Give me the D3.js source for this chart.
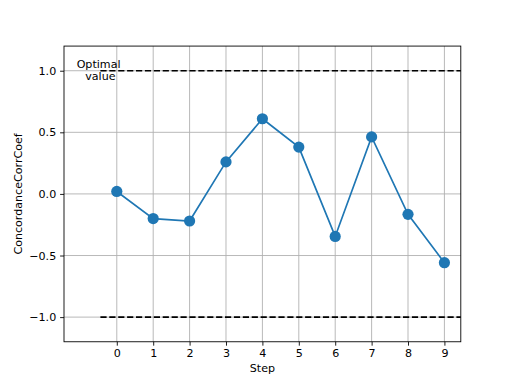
<!DOCTYPE html>
<html><head><meta charset="utf-8">
<script src="https://cdn.jsdelivr.net/npm/d3@7"></script>
<style>body{margin:0;background:#fff}svg{display:block}text{font-family:"DejaVu Sans",sans-serif}</style>
</head><body><svg id="c" width="512" height="384"></svg>
<script>
const steps = [0,1,2,3,4,5,6,7,8,9];
const values = [0.02,-0.20,-0.22,0.26,0.61,0.38,-0.345,0.463,-0.166,-0.558];
const xTicks = [0,1,2,3,4,5,6,7,8,9];
const yTicks = [-1.0,-0.5,0.0,0.5,1.0];
const optimal = [1.0,-1.0];
const labels = {x:"Step", y:"ConcordanceCorrCoef", note:["Optimal","value"]};

const svg = d3.select("#c");
const L=64,R=460.8,T=46.08,B=341.76;
const x = d3.scaleLinear().domain([-1.45,9.45]).range([L,R]);
const y = d3.scaleLinear().domain([-1.2,1.2]).range([B,T]);
const fs = 11.1;

// grid
const g = svg.append("g");
g.selectAll(".gx").data(xTicks).join("line").attr("x1",d=>x(d)).attr("x2",d=>x(d)).attr("y1",T).attr("y2",B).attr("stroke","#b0b0b0").attr("stroke-width",0.89);
g.selectAll(".gy").data(yTicks).join("line").attr("y1",d=>y(d)).attr("y2",d=>y(d)).attr("x1",L).attr("x2",R).attr("stroke","#b0b0b0").attr("stroke-width",0.89);

// optimal lines
svg.selectAll(".opt").data(optimal).join("line").attr("x1",x(-0.45)).attr("x2",R).attr("y1",d=>y(d)).attr("y2",d=>y(d)).attr("stroke","#000").attr("stroke-width",1.67).attr("stroke-dasharray","6.2,2.7");

// line + markers
svg.append("path").datum(steps.map((s,i)=>[s,values[i]])).attr("fill","none").attr("stroke","#1f77b4").attr("stroke-width",1.67).attr("d",d3.line().x(d=>x(d[0])).y(d=>y(d[1])));
svg.selectAll(".pt").data(steps).join("circle").attr("cx",d=>x(d)).attr("cy",(d,i)=>y(values[i])).attr("r",5.6).attr("fill","#1f77b4");

// axes
const ax = svg.append("g").attr("transform",`translate(0,${B})`).call(d3.axisBottom(x).tickValues(xTicks).tickFormat(d3.format("d")).tickSize(3.9).tickPadding(3.9));
const ay = svg.append("g").attr("transform",`translate(${L},0)`).call(d3.axisLeft(y).tickValues(yTicks).tickFormat(d=>d3.format(".1f")(d).replace("-","\u2212")).tickSize(3.9).tickPadding(3.9));
[ax,ay].forEach(a=>{a.select(".domain").remove();a.selectAll("text").attr("font-size",fs).attr("font-family","DejaVu Sans").attr("fill","#000");a.selectAll("line").attr("stroke","#000").attr("stroke-width",0.89);});

// frame
svg.append("rect").attr("x",L).attr("y",T).attr("width",R-L).attr("height",B-T).attr("fill","none").attr("stroke","#000").attr("stroke-width",0.89);

// note
const nt = svg.append("text").attr("x",x(-0.5)).attr("y",y(1.0)-3).attr("text-anchor","middle").attr("font-size",fs);
nt.append("tspan").attr("x",x(-0.5)).text(labels.note[0]);
nt.append("tspan").attr("x",x(-0.45)).attr("dy",12.5).text(labels.note[1]);

svg.append("text").attr("x",(L+R)/2).attr("y",372).attr("text-anchor","middle").attr("font-size",fs).text(labels.x);
svg.append("text").attr("transform",`translate(22,${(T+B)/2}) rotate(-90)`).attr("text-anchor","middle").attr("font-size",fs).text(labels.y);
</script></body></html>
